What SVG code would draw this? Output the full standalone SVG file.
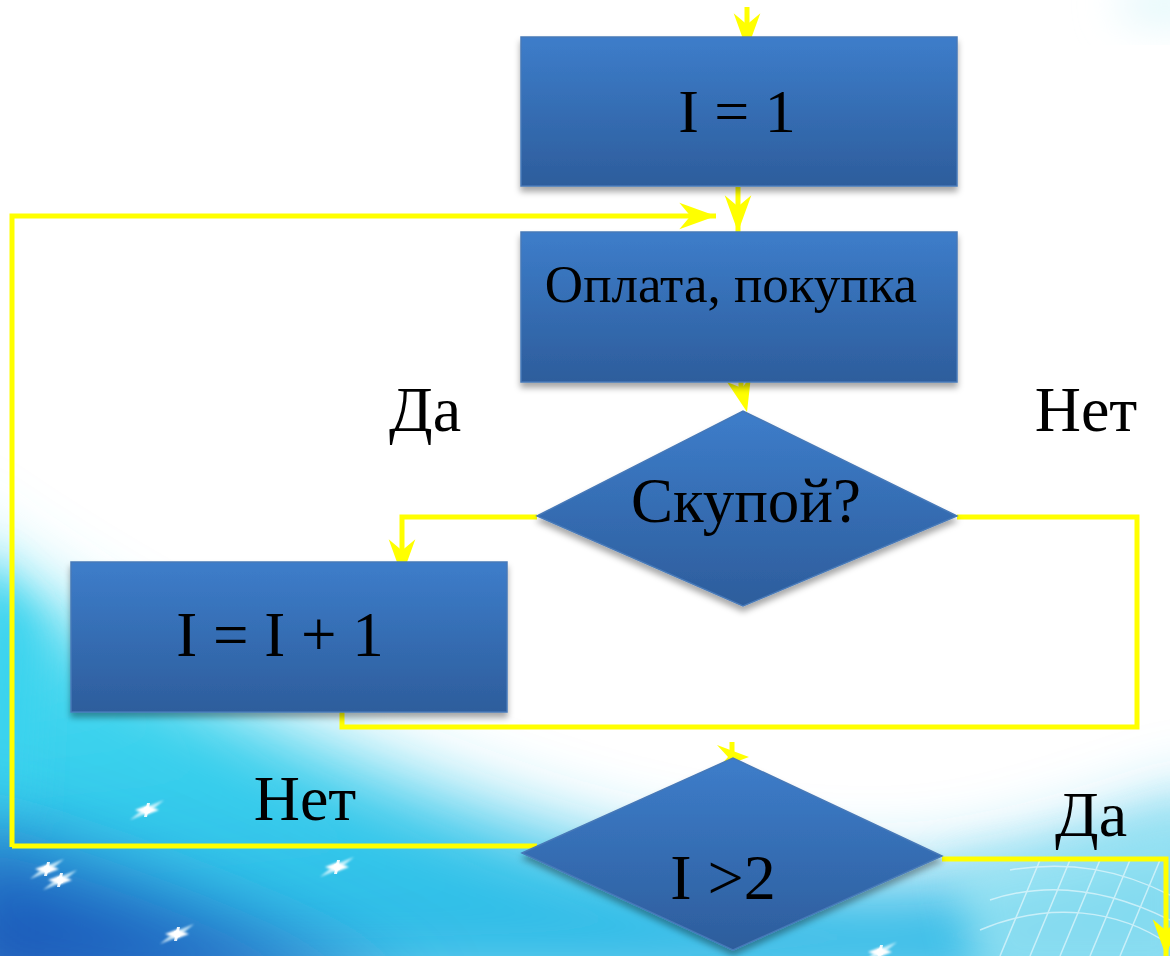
<svg xmlns="http://www.w3.org/2000/svg" width="1170" height="956" viewBox="0 0 1170 956">
<defs>
<style>
.node{fill:url(#nodeGrad);stroke:#4779B8;stroke-width:1.5;filter:url(#shadow)}
.lbl{font-family:"Liberation Serif","Times New Roman",serif;fill:#000;text-anchor:middle}
.con{fill:none;stroke:#FFFF00;stroke-width:5;stroke-linejoin:miter}
.head{fill:#FFFF00}
</style>
<linearGradient id="nodeGrad" x1="0" y1="0" x2="0" y2="1">
<stop offset="0" stop-color="#3D7DCA"/>
<stop offset="1" stop-color="#2D5D9C"/>
</linearGradient>
<linearGradient id="cyanGrad" x1="0" y1="0" x2="0.3" y2="1">
<stop offset="0" stop-color="#6FE2F4"/>
<stop offset="0.45" stop-color="#38D2ED"/>
<stop offset="1" stop-color="#2FB8E6"/>
</linearGradient>
<linearGradient id="deepGrad" x1="0" y1="1" x2="1" y2="0">
<stop offset="0" stop-color="#1A48AE"/>
<stop offset="1" stop-color="#2A8EDB"/>
</linearGradient>
<filter id="shadow" x="-10%" y="-10%" width="120%" height="130%">
<feDropShadow dx="0" dy="5" stdDeviation="3" flood-color="#000" flood-opacity="0.35"/>
</filter>
<filter id="blur40" x="-50%" y="-50%" width="200%" height="200%"><feGaussianBlur stdDeviation="40"/></filter>
<filter id="blur20" x="-50%" y="-50%" width="200%" height="200%"><feGaussianBlur stdDeviation="20"/></filter>
<filter id="glow" x="-50%" y="-50%" width="200%" height="200%"><feGaussianBlur stdDeviation="1"/></filter>
<marker id="arr" markerUnits="userSpaceOnUse" markerWidth="40" markerHeight="30" viewBox="-34 -13 36 26" refX="0" refY="0" orient="auto">
<path d="M0,0 L-33,-12 L-23,0 L-33,12 Z" fill="#FFFF00"/>
</marker>
<g id="spark">
<path d="M-17,10 L-2,-2.5 L17,-10 L2,2.5 Z" fill="#E6FAFF" opacity="0.8" filter="url(#glow)"/>
<path d="M-12,0 L0,-4.5 L12,0 L0,4.5 Z" fill="#fff" filter="url(#glow)"/>
<path d="M-3,7 L0,-7 L3,-7 L0,7 Z" fill="#fff" opacity="0.9"/>
<circle r="3.5" fill="#fff"/>
</g>
</defs>

<g id="background">
<rect width="1170" height="956" fill="#fff"/>
<ellipse cx="1165" cy="5" rx="50" ry="20" fill="#E3F8FB" filter="url(#blur20)"/>
<path d="M-80,520 C60,620 250,730 480,810 C620,860 760,885 900,882 C1000,880 1100,840 1230,800 L1230,1000 L-80,1000 Z" fill="url(#cyanGrad)" filter="url(#blur40)"/>
<path d="M-20,560 L40,620 L30,820 L-20,840 Z" fill="#3BD3EE" filter="url(#blur20)"/>
<path d="M-60,820 C80,860 260,920 420,1010 L-60,1010 Z" fill="url(#deepGrad)" filter="url(#blur40)"/>
<path d="M950,860 C1050,850 1120,830 1200,800 L1200,990 L980,990 Z" fill="#A7E9F4" opacity="0.7" filter="url(#blur20)"/>
<g stroke="#ffffff" stroke-width="1.5" opacity="0.55" fill="none">
<path d="M1000,956 L1040,860 M1030,956 L1070,860 M1060,956 L1100,860 M1090,956 L1130,860 M1120,956 L1160,860"/>
<path d="M990,900 C1050,880 1110,890 1170,920 M980,930 C1050,900 1120,910 1170,945 M1010,870 C1070,860 1120,870 1170,895"/>
</g>
<use href="#spark" x="147" y="810"/>
<use href="#spark" x="47" y="869"/>
<use href="#spark" x="60" y="880"/>
<use href="#spark" x="337" y="867"/>
<use href="#spark" x="177" y="934"/>
<use href="#spark" x="880" y="952"/>
</g>

<g id="connectors">
<line class="con" x1="747" y1="7" x2="747" y2="50" marker-end="url(#arr)"/>
<line class="con" x1="738" y1="187" x2="738" y2="232" marker-end="url(#arr)"/>
<polyline class="con" points="12,847 12,216 716,216" marker-end="url(#arr)"/>
<polyline class="con" points="537,517 402,517 402,576" marker-end="url(#arr)"/>
<polyline class="con" points="957,517 1137,517 1137,727 342,727 342,712"/>
<polyline class="con" points="537,846 12,846"/>
<polyline class="con" points="942,859 1166,859 1166,956" marker-end="url(#arr)"/>
<line class="con" x1="741" y1="380" x2="741" y2="388"/>
<polygon class="head" points="727,382 747,412 751,376 742,388"/>
<line class="con" x1="732" y1="742" x2="732" y2="757"/>
<polygon class="head" points="717,745 749,757 717,769 728,757"/>
</g>

<g id="n1">
<rect class="node" x="521" y="37" width="436" height="149"/>
<text class="lbl" x="737" y="132" font-size="62">I = 1</text>
</g>
<g id="n2">
<rect class="node" x="521" y="232" width="436" height="150"/>
<text class="lbl" x="731" y="302" font-size="53">Оплата, покупка</text>
</g>
<g id="n3">
<polygon class="node" points="537,516 743,411 957,516 743,606"/>
<text class="lbl" x="746" y="522" font-size="63">Скупой?</text>
</g>
<g id="n4">
<rect class="node" x="71" y="562" width="436" height="150"/>
<text class="lbl" x="280" y="656" font-size="63">I = I + 1</text>
</g>
<g id="n5">
<polygon class="node" points="522,853 733,758 942,856 733,950"/>
<text class="lbl" x="723" y="899" font-size="64">I &gt;2</text>
</g>
<g id="labels">
<text class="lbl" x="425" y="431" font-size="64">Да</text>
<text class="lbl" x="1086" y="431" font-size="64">Нет</text>
<text class="lbl" x="305" y="820" font-size="64">Нет</text>
<text class="lbl" x="1091" y="836" font-size="64">Да</text>
</g>
</svg>
